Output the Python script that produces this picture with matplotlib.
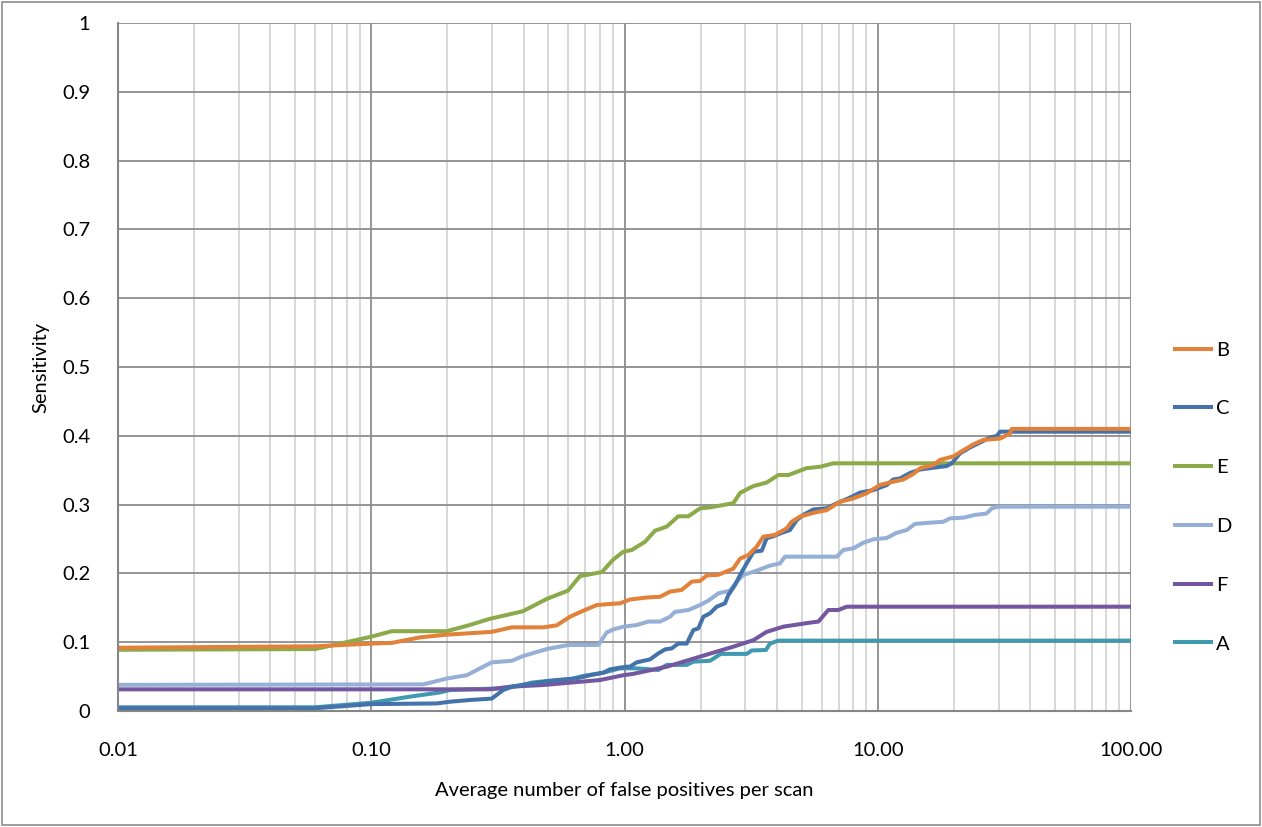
import numpy as np
import matplotlib
matplotlib.use("Agg")
import matplotlib.pyplot as plt
from matplotlib.patches import Rectangle

plt.rcParams['font.family'] = ['Lato', 'DejaVu Sans']

# FROC curves: x = avg false positives per scan, y = sensitivity
b_x = [0.01, 0.06, 0.10, 0.1205, 0.1557, 0.199, 0.299, 0.3586, 0.478, 0.540, 0.609, 0.688, 0.777,
       0.876, 0.960, 1.051, 1.224, 1.381, 1.512, 1.682, 1.843, 1.987, 2.112, 2.347, 2.533, 2.69,
       2.86, 3.083, 3.327, 3.532, 3.93, 4.37, 4.57, 4.93, 5.57, 6.29, 7.09, 8.01, 9.04, 10.2,
       11.52, 12.62, 13.81, 14.69, 16.57, 17.62, 19.87, 21.78, 23.84, 26.1, 30.4, 33.3, 33.8, 100]
b_y = [0.092, 0.094, 0.098, 0.099, 0.107, 0.111, 0.115, 0.1216, 0.1216, 0.1245, 0.137, 0.1458, 0.154,
       0.1555, 0.1565, 0.162, 0.165, 0.166, 0.1735, 0.176, 0.188, 0.189, 0.197, 0.198, 0.203, 0.207,
       0.2215, 0.2267, 0.2388, 0.2534, 0.256, 0.2655, 0.275, 0.2825, 0.288, 0.292, 0.304, 0.309, 0.3165, 0.3285,
       0.3333, 0.3365, 0.3445, 0.3527, 0.3575, 0.365, 0.37, 0.379, 0.3875, 0.394, 0.396, 0.4035, 0.41, 0.41]

c_x = [0.01, 0.06, 0.10, 0.1814, 0.2046, 0.245, 0.299, 0.332, 0.364, 0.540, 0.6475, 0.731, 0.8248,
       0.876, 0.960, 1.02, 1.051, 1.117, 1.261, 1.36, 1.445, 1.536, 1.63, 1.761, 1.87, 1.956, 2.048,
       2.176, 2.312, 2.494, 2.57, 2.731, 2.86, 3.037, 3.23, 3.483, 3.64, 3.87, 4.18, 4.50, 4.79,
       5.08, 5.57, 6.29, 6.89, 7.65, 8.51, 9.60, 10.85, 11.52, 12.24, 13.41, 14.69, 16.57, 18.72,
       19.59, 21.13, 23.14, 25.73, 27.75, 29.5, 30.4, 100]
c_y = [0.004, 0.004, 0.010, 0.011, 0.0135, 0.016, 0.018, 0.0305, 0.036, 0.045, 0.0475, 0.052, 0.0557,
       0.0605, 0.063, 0.0644, 0.0644, 0.0707, 0.075, 0.0837, 0.0895, 0.091, 0.098, 0.098, 0.1177, 0.120, 0.137,
       0.142, 0.1516, 0.1565, 0.1686, 0.183, 0.1977, 0.2145, 0.2315, 0.233, 0.251, 0.254, 0.259, 0.263, 0.2776,
       0.285, 0.293, 0.2945, 0.302, 0.309, 0.3175, 0.321, 0.3285, 0.3365, 0.338, 0.346, 0.351, 0.3536, 0.356,
       0.36, 0.3745, 0.383, 0.3914, 0.3975, 0.3997, 0.406, 0.406]

e_x = [0.01, 0.06, 0.10, 0.1205, 0.199, 0.245, 0.294, 0.397, 0.494, 0.598, 0.667, 0.815, 0.902,
       0.989, 1.068, 1.205, 1.319, 1.468, 1.630, 1.787, 1.987, 2.176, 2.69, 2.86, 3.23, 3.64,
       4.05, 4.44, 5.24, 5.92, 6.68, 100]
e_y = [0.089, 0.090, 0.108, 0.116, 0.116, 0.125, 0.134, 0.145, 0.163, 0.175, 0.196, 0.202, 0.220,
       0.2315, 0.234, 0.246, 0.262, 0.268, 0.283, 0.283, 0.2945, 0.296, 0.302, 0.317, 0.327, 0.332,
       0.343, 0.343, 0.353, 0.355, 0.360, 0.360]

d_x = [0.01, 0.1606, 0.199, 0.2382, 0.299, 0.3586, 0.3985, 0.493, 0.600, 0.788, 0.85, 0.903, 0.989,
       1.117, 1.242, 1.381, 1.512, 1.582, 1.787, 1.987, 2.142, 2.347, 2.61, 2.773, 2.945, 3.327,
       3.754, 4.11, 4.30, 6.89, 7.31, 8.01, 8.77, 9.60, 10.85, 11.88, 13.01, 14.03, 16.08, 18.15,
       19.29, 21.78, 24.2, 26.9, 28.2, 29.9, 100]
d_y = [0.038, 0.0387, 0.0472, 0.052, 0.0707, 0.073, 0.080, 0.090, 0.096, 0.096, 0.114, 0.1186, 0.1225,
       0.125, 0.130, 0.130, 0.137, 0.144, 0.1468, 0.154, 0.1603, 0.171, 0.175, 0.188, 0.1977, 0.204,
       0.2113, 0.2145, 0.2243, 0.2243, 0.234, 0.2365, 0.2446, 0.2495, 0.2515, 0.259, 0.263, 0.272, 0.2737, 0.275,
       0.280, 0.281, 0.285, 0.287, 0.2945, 0.297, 0.297]

f_x = [0.01, 0.294, 0.353, 0.478, 0.609, 0.80, 0.989, 1.083, 1.468, 1.987, 2.69, 3.23, 3.64,
       4.24, 5.40, 5.83, 6.38, 6.99, 7.54, 100]
f_y = [0.0315, 0.0315, 0.0353, 0.0378, 0.0412, 0.045, 0.052, 0.054, 0.0644, 0.079, 0.0935, 0.103, 0.115,
       0.1226, 0.1284, 0.130, 0.1468, 0.1468, 0.1516, 0.1516]

a_x = [0.01, 0.06, 0.10, 0.1418, 0.1868, 0.2046, 0.245, 0.332, 0.377, 0.431, 0.493, 0.609, 0.688,
       0.8248, 0.960, 1.117, 1.36, 1.468, 1.761, 1.87, 2.176, 2.40, 3.037, 3.18, 3.62, 3.754,
       4.05, 100]
a_y = [0.0054, 0.0054, 0.012, 0.0208, 0.027, 0.0305, 0.0315, 0.033, 0.036, 0.0413, 0.0436, 0.046, 0.051,
       0.0557, 0.062, 0.062, 0.0596, 0.067, 0.067, 0.0717, 0.073, 0.083, 0.083, 0.088, 0.0887, 0.098,
       0.1023, 0.1023]

series = [
    ('B', b_x, b_y, '#E2823A'),
    ('C', c_x, c_y, '#4472AA'),
    ('E', e_x, e_y, '#8BAA4A'),
    ('D', d_x, d_y, '#95AFD6'),
    ('F', f_x, f_y, '#7357A0'),
    ('A', a_x, a_y, '#4199B0'),
]

x_ticks = [0.01, 0.1, 1, 10, 100]
x_labels = ['0.01', '0.10', '1.00', '10.00', '100.00']
y_ticks = [0, 0.1, 0.2, 0.3, 0.4, 0.5, 0.6, 0.7, 0.8, 0.9, 1]
y_labels = ['0', '0.1', '0.2', '0.3', '0.4', '0.5', '0.6', '0.7', '0.8', '0.9', '1']

fig = plt.figure(figsize=(12.62, 8.27), dpi=100)
ax = fig.add_axes([118 / 1262, 1 - 711 / 827, (1131 - 118) / 1262, (711 - 23) / 827])

# draw order: last legend entry underneath
for name, xs, ys, col in reversed(series):
    ax.plot(xs, ys, color=col, lw=2.9, label=name, solid_joinstyle='round')

ax.set_xscale('log')
ax.set_xlim(0.01, 100)
ax.set_ylim(0, 1)
ax.set_xticks(x_ticks)
ax.set_xticklabels(x_labels)
ax.set_yticks(y_ticks)
ax.set_yticklabels(y_labels)
ax.xaxis.set_minor_locator(matplotlib.ticker.LogLocator(base=10, subs=np.arange(2, 10)))
ax.xaxis.set_minor_formatter(matplotlib.ticker.NullFormatter())
ax.tick_params(axis='both', which='both', length=0, labelsize=14.5, colors='black')
ax.tick_params(axis='x', pad=22)
ax.tick_params(axis='y', pad=20)

ax.grid(True, which='major', color='#8C8C8C', lw=1.3)
ax.grid(True, which='minor', axis='x', color='#D4D4D4', lw=1.3)
ax.set_axisbelow(True)
for side in ['top', 'right']:
    ax.spines[side].set_visible(False)
for side in ['left', 'bottom']:
    ax.spines[side].set_color('#868686')
    ax.spines[side].set_linewidth(1.5)

ax.set_xlabel('Average number of false positives per scan', fontsize=14.5, labelpad=17)
ax.set_ylabel('Sensitivity', fontsize=14.5, labelpad=9)

handles, labels = ax.get_legend_handles_labels()
order = ['B', 'C', 'E', 'D', 'F', 'A']
hmap = dict(zip(labels, handles))
fig.legend([hmap[k] for k in order], order, loc='center left', bbox_to_anchor=(0.917, 0.399),
           frameon=False, fontsize=14.5, handlelength=1.75, handletextpad=0.25, labelspacing=2.07)

# chart area border
fig.patches.append(Rectangle((0.0015, 0.002), 0.997, 0.996, transform=fig.transFigure,
                             fill=False, edgecolor='#8C8C8C', lw=1.2))

fig.savefig('out.png', dpi=100)
